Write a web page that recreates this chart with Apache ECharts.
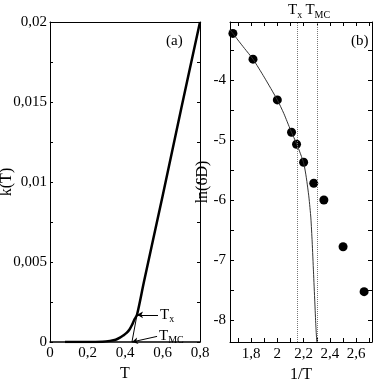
<!DOCTYPE html>
<html>
<head>
<meta charset="utf-8">
<script src="https://cdn.jsdelivr.net/npm/echarts@6/dist/echarts.min.js"></script>
<style>
  html, body { margin: 0; padding: 0; background: #fff; }
  #chart { width: 382px; height: 382px; }
</style>
</head>
<body>
<div id="chart"></div>
<script>
  // panel (a): k(T) versus T
  const T_A = [0.08, 0.2, 0.28, 0.32, 0.35, 0.373, 0.39, 0.41, 0.425, 0.437, 0.45, 0.464, 0.5, 0.6, 0.7, 0.8];
  const K_A = [0, 0, 0.00002, 0.00007, 0.00014, 0.00027, 0.0004, 0.00058, 0.0008, 0.00106, 0.0014, 0.0017, 0.0037, 0.0091, 0.0146, 0.02];
  const X_TICKS_A = [0, 0.2, 0.4, 0.6, 0.8];
  const Y_TICKS_A = [0, 0.0025, 0.005, 0.0075, 0.01, 0.0125, 0.015, 0.0175, 0.02];
  const Y_LABELS_A = [0, 0.005, 0.01, 0.015, 0.02];

  // panel (b): ln(6D) versus 1/T
  const INV_T = [1.662, 1.815, 2.0, 2.108, 2.146, 2.2, 2.277, 2.354, 2.5, 2.66];
  const LN_6D = [-3.22, -3.65, -4.33, -4.87, -5.07, -5.37, -5.72, -6.0, -6.78, -7.53];
  const FIT_X = [1.64, 1.662, 1.7, 1.75, 1.815, 1.9, 2.0, 2.05, 2.1, 2.15, 2.2, 2.22, 2.24, 2.255, 2.265, 2.275, 2.285, 2.293, 2.3];
  const FIT_Y = [-3.16, -3.22, -3.33, -3.47, -3.65, -3.95, -4.33, -4.56, -4.83, -5.08, -5.38, -5.62, -5.95, -6.3, -6.7, -7.2, -7.7, -8.1, -8.37];
  const X_TICKS_B = [1.7, 1.8, 1.9, 2.0, 2.1, 2.2, 2.3, 2.4, 2.5, 2.6, 2.7];
  const X_LABELS_B = [1.8, 2.0, 2.2, 2.4, 2.6];
  const Y_TICKS_B = [-8, -7.5, -7, -6.5, -6, -5.5, -5, -4.5, -4, -3.5];
  const Y_LABELS_B = [-8, -7, -6, -5, -4];
  const T_X = 2.154;
  const T_MC = 2.3;

  const FONT = "Liberation Serif";
  const comma = (v) => String(+v.toFixed(4)).replace(".", ",");
  const rich = {
    t: { fontFamily: FONT, fontSize: 15, color: "#000" },
    s: { fontFamily: FONT, fontSize: 10, color: "#000", padding: [9, 0, 0, 0] },
  };
  const axisLine = { show: true, onZero: false, lineStyle: { color: "#000", width: 1 } };
  const tickStyle = { color: "#000", width: 1 };
  const labelStyle = { color: "#000", fontFamily: FONT, fontSize: 15 };
  const nameStyle = { color: "#000", fontFamily: FONT, fontSize: 16 };

  const chart = echarts.init(document.getElementById("chart"), null, { renderer: "canvas" });

  chart.setOption({
    animation: false,
    backgroundColor: "#fff",
    grid: [
      { left: 50, top: 22, width: 150, height: 320, containLabel: false, outerBoundsMode: "none" },
      { left: 230, top: 22, width: 142, height: 320, containLabel: false, outerBoundsMode: "none" },
    ],
    xAxis: [
      {
        gridIndex: 0, type: "value", min: 0, max: 0.8, position: "bottom",
        axisLine: { show: true, onZero: false, lineStyle: { color: "#000", width: 1.5 } },
        axisTick: { show: false },
        axisLabel: { ...labelStyle, margin: 4, customValues: X_TICKS_A, formatter: comma },
        splitLine: { show: false },
        name: "T", nameLocation: "middle", nameGap: 22, nameTextStyle: nameStyle,
      },
      {
        gridIndex: 0, type: "value", min: 0, max: 0.8, position: "top",
        axisLine, axisTick: { show: false }, axisLabel: { show: false }, splitLine: { show: false },
      },
      {
        gridIndex: 1, type: "value", min: 1.64, max: 2.72, position: "bottom",
        axisLine,
        axisTick: { show: true, inside: true, length: 4, lineStyle: tickStyle, customValues: X_TICKS_B },
        axisLabel: { ...labelStyle, margin: 5, customValues: X_LABELS_B, formatter: comma },
        splitLine: { show: false },
        name: "1/T", nameLocation: "middle", nameGap: 22, nameTextStyle: nameStyle,
      },
      {
        gridIndex: 1, type: "value", min: 1.64, max: 2.72, position: "top",
        axisLine,
        axisTick: { show: true, inside: true, length: 4, lineStyle: tickStyle, customValues: X_TICKS_B },
        axisLabel: { show: false }, splitLine: { show: false },
      },
    ],
    yAxis: [
      {
        gridIndex: 0, type: "value", min: 0, max: 0.02, position: "left",
        axisLine,
        axisTick: { show: true, inside: true, length: 3, lineStyle: tickStyle, customValues: Y_TICKS_A },
        axisLabel: { ...labelStyle, margin: 3, customValues: Y_LABELS_A, formatter: comma },
        splitLine: { show: false },
        name: "k(T)", nameLocation: "middle", nameGap: 35, nameRotate: 90, nameMoveOverlap: false,
        nameTextStyle: nameStyle,
      },
      {
        gridIndex: 0, type: "value", min: 0, max: 0.02, position: "right",
        axisLine,
        axisTick: { show: true, inside: true, length: 3, lineStyle: tickStyle, customValues: Y_TICKS_A },
        axisLabel: { show: false }, splitLine: { show: false },
      },
      {
        gridIndex: 1, type: "value", min: -8.37, max: -3.03, position: "left",
        axisLine,
        axisTick: { show: true, inside: true, length: 4, lineStyle: tickStyle, customValues: Y_TICKS_B },
        axisLabel: { ...labelStyle, margin: 4, customValues: Y_LABELS_B, formatter: (v) => String(v) },
        splitLine: { show: false },
        name: "ln(6D)", nameLocation: "middle", nameGap: 19, nameRotate: 90, nameMoveOverlap: false,
        nameTextStyle: nameStyle,
      },
      {
        gridIndex: 1, type: "value", min: -8.37, max: -3.03, position: "right",
        axisLine,
        axisTick: { show: true, inside: true, length: 4, lineStyle: tickStyle, customValues: Y_TICKS_B },
        axisLabel: { show: false }, splitLine: { show: false },
      },
    ],
    series: [
      {
        type: "line", xAxisIndex: 0, yAxisIndex: 0, smooth: 0.3, symbol: "none",
        lineStyle: { color: "#000", width: 2.5 },
        data: T_A.map((t, i) => [t, K_A[i]]),
        markLine: {
          silent: true, symbol: ["none", "arrow"], symbolSize: [5, 6],
          lineStyle: { color: "#000", width: 1, type: "solid" },
          label: { show: true, position: "start", distance: 2, color: "#000", rich, formatter: "" },
          data: [
            [{ coord: [0.576, 0.0017], label: { formatter: "{t|T}{s|x}" } }, { coord: [0.464, 0.0017] }],
            [{ coord: [0.571, 0.00035], label: { formatter: "{t|T}{s|MC}" } }, { coord: [0.437, 0] }],
            [{ coord: [0.464, 0.0017], label: { show: false } }, { coord: [0.437, 0], symbol: "none" }],
          ],
        },
      },
      {
        type: "line", xAxisIndex: 2, yAxisIndex: 2, smooth: 0.2, symbol: "none",
        lineStyle: { color: "#333", width: 1 },
        data: FIT_X.map((x, i) => [x, FIT_Y[i]]),
        markLine: {
          silent: true, symbol: "none",
          lineStyle: { color: "#777", width: 1, type: "dotted" },
          label: { show: true, position: "end", distance: 2, color: "#000", rich },
          data: [
            { xAxis: T_X, label: { formatter: "{t|T}{s|x}", offset: [-2, 0] } },
            { xAxis: T_MC, label: { formatter: "{t|T}{s|MC}", offset: [1, 0] } },
          ],
        },
      },
      {
        type: "scatter", xAxisIndex: 2, yAxisIndex: 2, symbol: "circle", symbolSize: 9,
        itemStyle: { color: "#000", opacity: 1 },
        data: INV_T.map((x, i) => [x, LN_6D[i]]),
      },
    ],
    graphic: [
      { type: "text", left: 166, top: 34, style: { text: "(a)", font: "15px Liberation Serif", fill: "#000" } },
      { type: "text", left: 351, top: 34, style: { text: "(b)", font: "15px Liberation Serif", fill: "#000" } },
    ],
  });
</script>
</body>
</html>
